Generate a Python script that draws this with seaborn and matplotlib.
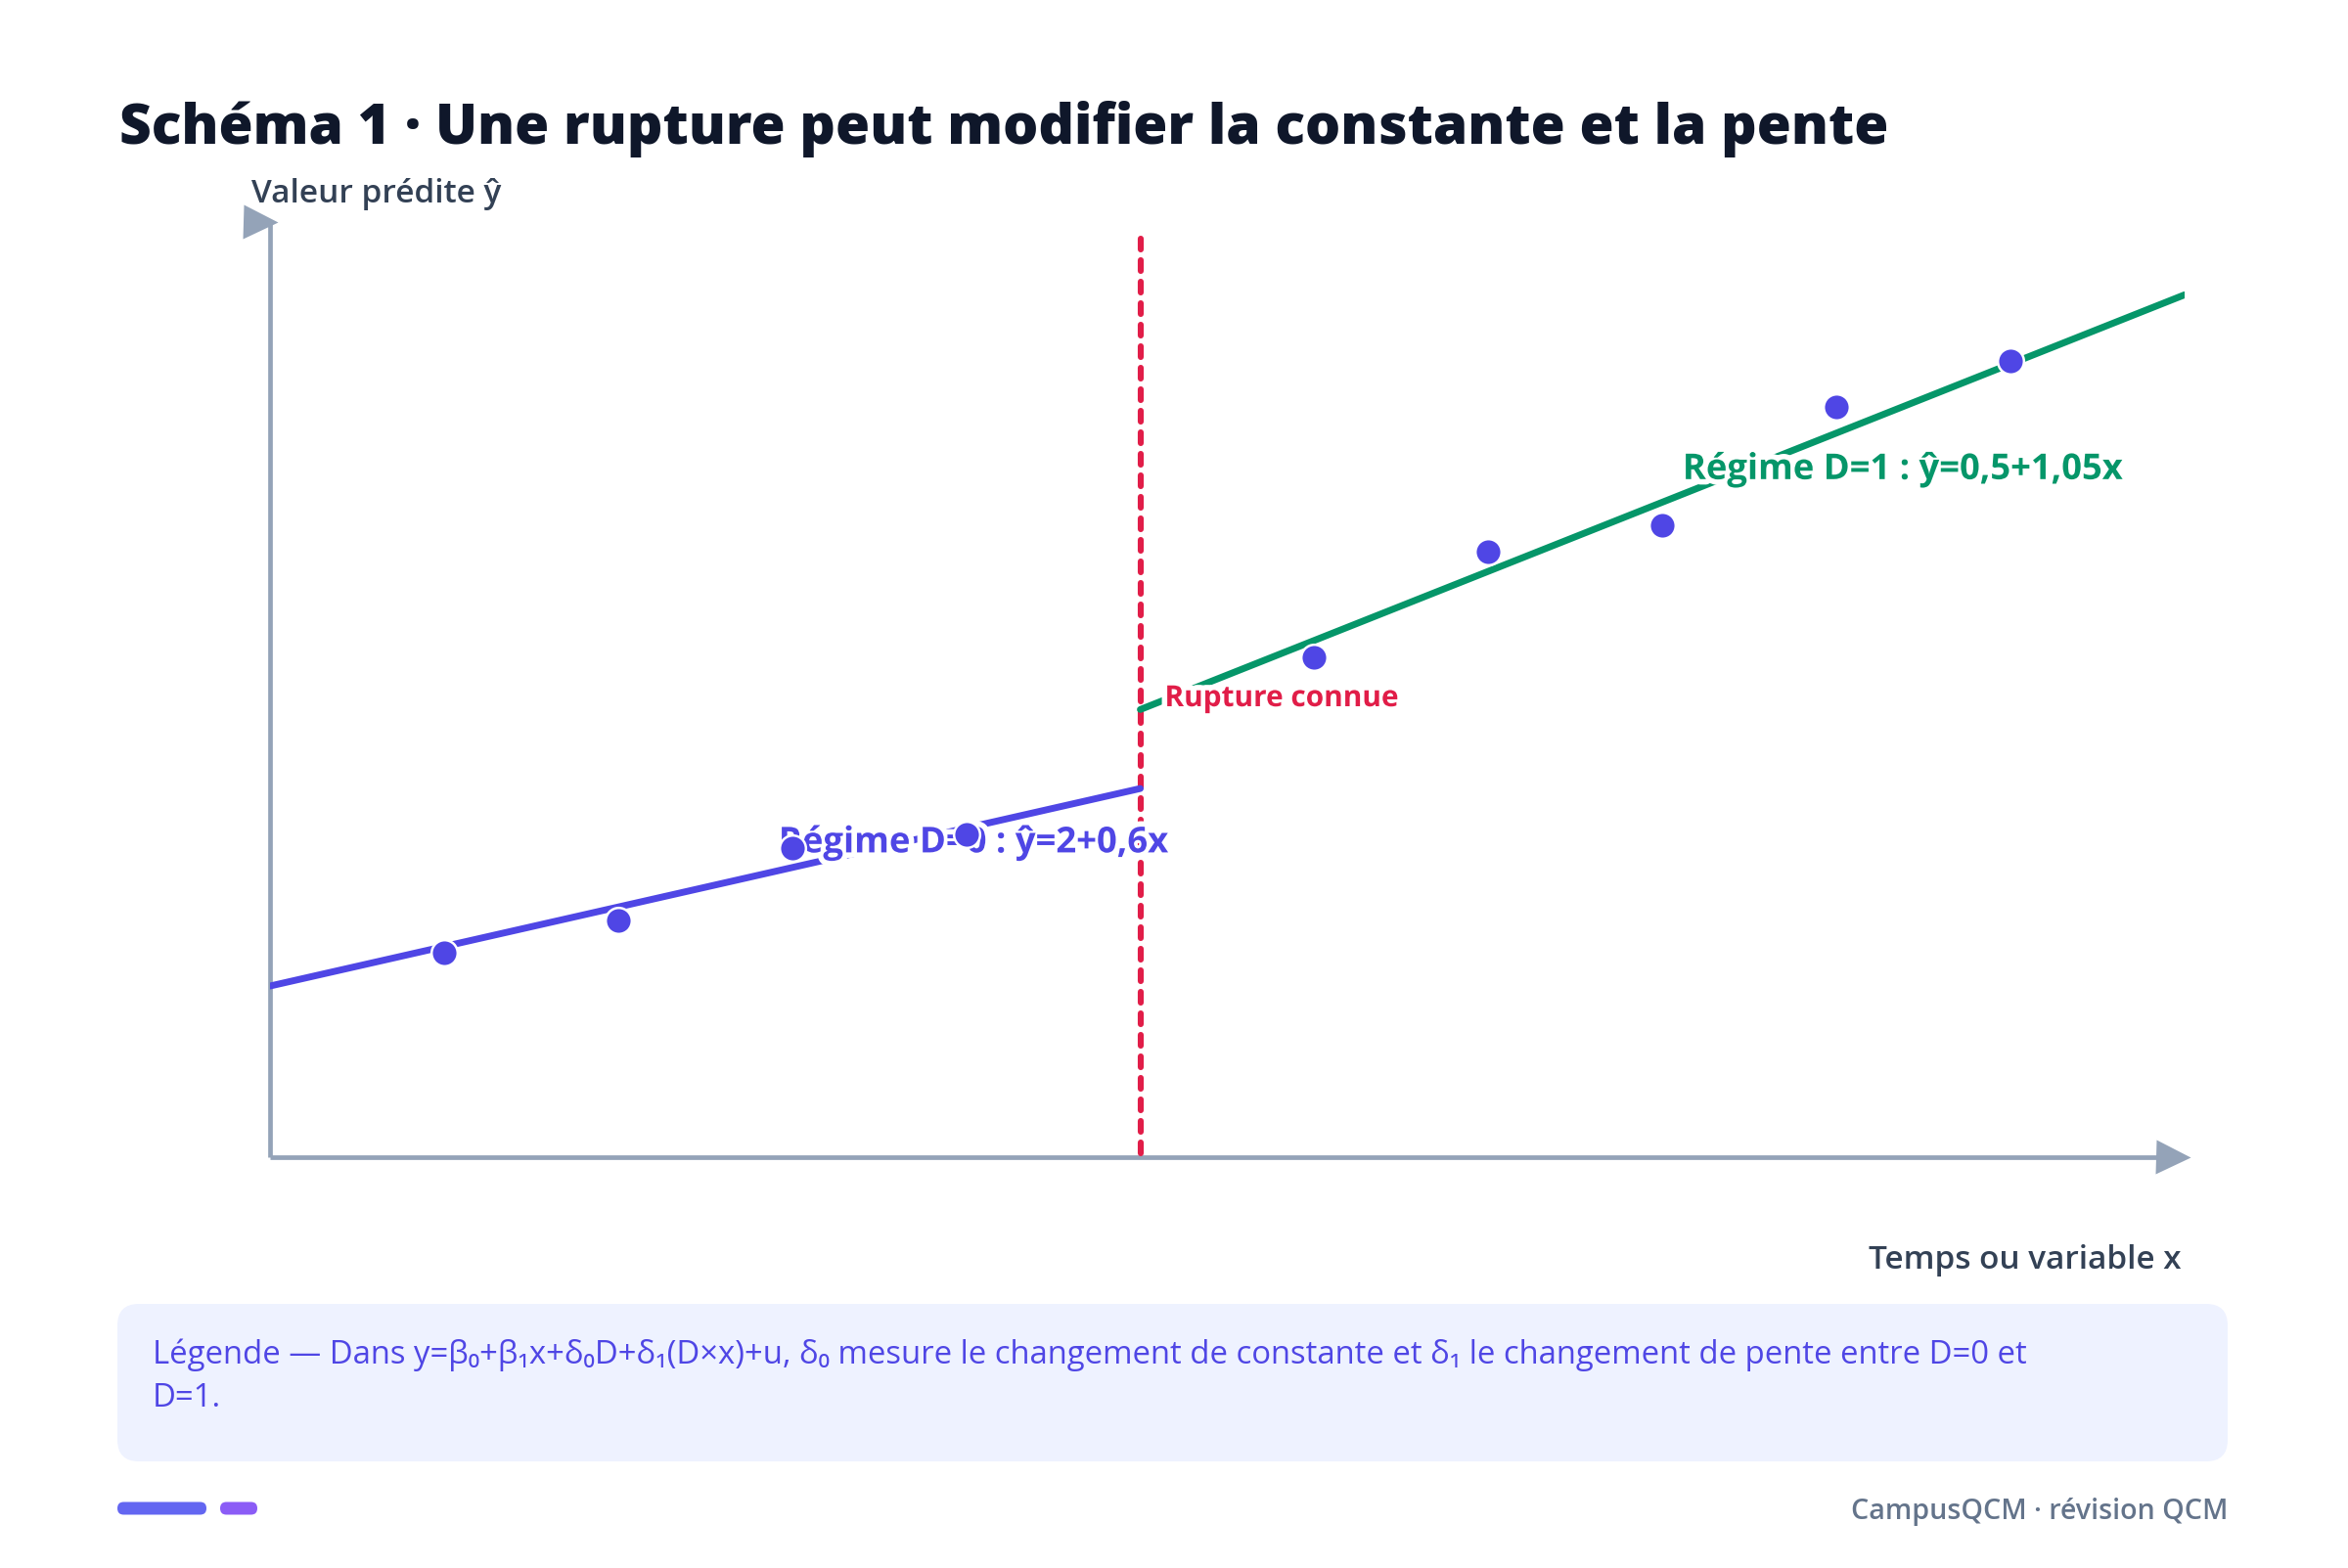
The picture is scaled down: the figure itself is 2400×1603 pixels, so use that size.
import matplotlib
matplotlib.use("Agg")
import matplotlib.pyplot as plt
import matplotlib.patheffects as pe
from matplotlib.patches import FancyBboxPatch
import seaborn as sns

# Régime D=0 (avant la rupture) et D=1 (après)
regime0_x = [1, 6]
regime0_y = [2.6, 5.6]
regime1_x = [6, 12]
regime1_y = [6.8, 13.1]

# Observations
obs_x = [2, 3, 4, 5, 7, 8, 9, 10, 11]
obs_y = [3.1, 3.6, 4.7, 4.9, 7.6, 9.2, 9.6, 11.4, 12.1]

rupture_x = 6
rupture_top = 13.95

titre = "Schéma 1 · Une rupture peut modifier la constante et la pente"
label_y = "Valeur prédite ŷ"
label_x = "Temps ou variable x"
label_r0 = "Régime D=0 : ŷ=2+0,6x"
label_r1 = "Régime D=1 : ŷ=0,5+1,05x"
label_rupture = "Rupture connue"
legende_1 = "Légende — Dans y=β₀+β₁x+δ₀D+δ₁(D×x)+u, δ₀ mesure le changement de constante et δ₁ le changement de pente entre D=0 et"
legende_2 = "D=1."
footer = "CampusQCM · révision QCM"

# couleurs
BLEU = "#4f46e5"
VERT = "#059669"
ROUGE = "#e11d48"
AXE = "#94a3b8"
TEXTE = "#334155"

sns.set_theme(style="white")
plt.rcParams["font.family"] = ["Open Sans", "DejaVu Sans"]

W, H = 2400, 1603
fig = plt.figure(figsize=(W / 200, H / 200), dpi=200)
fig.patch.set_facecolor("white")


def fx(px):
    return px / W


def fy(py):
    # py mesuré depuis le haut
    return 1 - py / H


ax = fig.add_axes([fx(276), fy(1183), fx(2233) - fx(276), fy(240.8) - fy(1183)])
ax.set_xlim(1, 12)
ax.set_ylim(0, 14)
ax.axis("off")

# axes dessinés à la main (flèches)
ax.plot([1, 1], [0, 14.2], color=AXE, lw=1.7, clip_on=False, zorder=1, solid_capstyle="butt")
ax.plot([1, 11.95], [0, 0], color=AXE, lw=1.7, clip_on=False, zorder=1, solid_capstyle="butt")
ax.plot([0.941], [14.2], marker=">", ms=12.6, color=AXE, mec="none", clip_on=False, zorder=1)
ax.plot([11.93], [0], marker=">", ms=12.6, color=AXE, mec="none", clip_on=False, zorder=1)

# rupture
ax.plot([rupture_x, rupture_x], [rupture_top, 0], color=ROUGE, lw=2.2,
        linestyle=(0, (1.8, 1.8)), dash_capstyle="round", clip_on=False, zorder=2)

# droites des deux régimes
sns.lineplot(x=regime0_x, y=regime0_y, color=BLEU, linewidth=2.5, ax=ax,
             solid_capstyle="round", zorder=2)
sns.lineplot(x=regime1_x, y=regime1_y, color=VERT, linewidth=2.5, ax=ax,
             solid_capstyle="round", zorder=2)

halo = [pe.withStroke(linewidth=4, foreground="white")]
t_r0 = ax.text(5.04, 4.63, label_r0, color=BLEU, fontsize=12, fontweight="bold",
               ha="center", va="baseline", path_effects=halo, zorder=4)
t_r1 = ax.text(10.38, 10.30, label_r1, color=VERT, fontsize=12, fontweight="bold",
               ha="center", va="baseline", path_effects=halo, zorder=4)
t_rup = ax.text(6.14, 6.85, label_rupture, color=ROUGE, fontsize=10, fontweight="bold",
                ha="left", va="baseline", path_effects=halo, zorder=4)

# points observés
sns.scatterplot(x=obs_x, y=obs_y, color=BLEU, s=92, edgecolor="white",
                linewidth=0.9, ax=ax, zorder=5, clip_on=False)

# titre et étiquettes d'axes
t_titre = fig.text(fx(122), fy(147), titre, fontsize=20, fontweight=800, color="#0f172a",
                   ha="left", va="baseline")
t_ly = fig.text(fx(257), fy(207), label_y, fontsize=12, fontweight=600, color=TEXTE,
                ha="left", va="baseline")
t_lx = fig.text(fx(2230), fy(1297), label_x, fontsize=12, fontweight=600, color=TEXTE,
                ha="right", va="baseline")

# carte légende
carte = FancyBboxPatch((120 / 200, (H - 1494) / 200), (2277 - 120) / 200, (1494 - 1333) / 200,
                       boxstyle="round,pad=0,rounding_size=0.11",
                       transform=fig.dpi_scale_trans, facecolor="#eef2ff", edgecolor="none")
fig.patches.append(carte)
t_leg1 = fig.text(fx(156), fy(1394), legende_1, fontsize=12, color=BLEU, ha="left", va="baseline")
t_leg2 = fig.text(fx(156), fy(1438), legende_2, fontsize=12, color=BLEU, ha="left", va="baseline")

# pied de page
for x0, x1, c in [(120, 211, "#6366f1"), (225, 263, "#8b5cf6")]:
    barre = FancyBboxPatch((x0 / 200, (H - 1548.5) / 200), (x1 - x0) / 200, 13 / 200,
                           boxstyle="round,pad=0,rounding_size=0.032",
                           transform=fig.dpi_scale_trans, facecolor=c, edgecolor="none")
    fig.patches.append(barre)
t_foot = fig.text(fx(2277), fy(1553), footer, fontsize=10, fontweight=600, color="#64748b",
                  ha="right", va="baseline")

# ajuste la taille des textes à la largeur mesurée sur le modèle
largeurs = [(t_titre, 1804), (t_r0, 398), (t_r1, 450), (t_rup, 239), (t_ly, 256),
            (t_lx, 320), (t_leg1, 1923), (t_foot, 385)]
fig.canvas.draw()
rend = fig.canvas.get_renderer()
for t, cible in largeurs:
    w = t.get_window_extent(rend).width
    t.set_fontsize(t.get_fontsize() * cible / w)
t_leg2.set_fontsize(t_leg1.get_fontsize())

fig.savefig("out.png", dpi=200, facecolor="white")
